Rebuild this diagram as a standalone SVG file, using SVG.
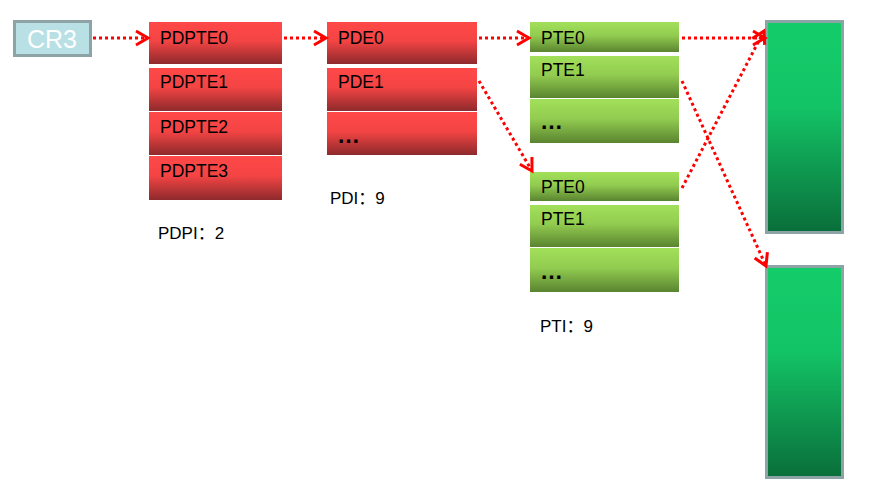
<svg xmlns="http://www.w3.org/2000/svg" width="892" height="486" viewBox="0 0 892 486">
<defs>
<linearGradient id="red" x1="0" y1="0" x2="0" y2="1">
<stop offset="0" stop-color="#ff4848"/><stop offset="0.45" stop-color="#f44444"/><stop offset="1" stop-color="#8e2a2c"/>
</linearGradient>
<linearGradient id="grn" x1="0" y1="0" x2="0" y2="1">
<stop offset="0" stop-color="#a2e05a"/><stop offset="0.45" stop-color="#92cc50"/><stop offset="1" stop-color="#5a8430"/>
</linearGradient>
<linearGradient id="page" x1="0" y1="0" x2="0" y2="1">
<stop offset="0" stop-color="#14cc6a"/><stop offset="0.4" stop-color="#13c466"/><stop offset="1" stop-color="#0a6e3a"/>
</linearGradient>
<marker id="ah" markerUnits="userSpaceOnUse" markerWidth="20" markerHeight="20" refX="14" refY="8" orient="auto" viewBox="0 0 20 16">
<path d="M2,1 L14,8 L2,15" fill="none" stroke="#ff0000" stroke-width="3"/>
</marker>
<style>
.r{fill:url(#red)}
.g{fill:url(#grn)}
.pg{fill:url(#page);stroke:#8ea3a6;stroke-width:3}
.t{font-family:"Liberation Sans",Arial,sans-serif;font-size:17.5px;fill:#000}
.e{font-family:"Liberation Sans",Arial,sans-serif;font-size:23px;font-weight:bold;fill:#000}
.lb{font-family:"Liberation Sans","Noto Sans CJK SC",sans-serif;font-size:17px;fill:#000}
.c{fill:none;stroke:#ff0000;stroke-width:3;stroke-dasharray:3 3;marker-end:url(#ah)}
</style>
</defs>
<g id="cr3">
<rect x="14.5" y="21.5" width="76" height="34" fill="#b9e0e4" stroke="#8ea3a6" stroke-width="3"/>
<text x="52" y="48" text-anchor="middle" font-family="Liberation Sans,Arial,sans-serif" font-size="25" fill="#ffffff">CR3</text>
</g>
<g id="pdpt">
<rect class="r" x="149" y="22" width="133" height="42"/>
<text class="t" x="160" y="44">PDPTE0</text>
<rect class="r" x="149" y="68" width="133" height="43"/>
<text class="t" x="160" y="88">PDPTE1</text>
<rect class="r" x="149" y="112" width="133" height="43"/>
<text class="t" x="160" y="133">PDPTE2</text>
<rect class="r" x="149" y="156" width="133" height="44"/>
<text class="t" x="160" y="177">PDPTE3</text>
</g>
<text id="pdpi" class="lb" x="158" y="239">PDPI：2</text>
<g id="pd">
<rect class="r" x="327" y="22" width="150" height="42"/>
<text class="t" x="338" y="44">PDE0</text>
<rect class="r" x="327" y="68" width="150" height="43"/>
<text class="t" x="338" y="88">PDE1</text>
<rect class="r" x="327" y="112" width="150" height="43"/>
<text class="e" x="337" y="143">…</text>
</g>
<text id="pdi" class="lb" x="330" y="204">PDI：9</text>
<g id="pt1">
<rect class="g" x="530" y="22" width="149" height="30"/>
<text class="t" x="541" y="44">PTE0</text>
<rect class="g" x="530" y="56" width="149" height="42"/>
<text class="t" x="541" y="76">PTE1</text>
<rect class="g" x="530" y="99" width="149" height="44"/>
<text class="e" x="540" y="129">…</text>
</g>
<g id="pt2">
<rect class="g" x="530" y="172" width="149" height="29"/>
<text class="t" x="541" y="193">PTE0</text>
<rect class="g" x="530" y="205" width="149" height="42"/>
<text class="t" x="541" y="225">PTE1</text>
<rect class="g" x="530" y="248" width="149" height="44"/>
<text class="e" x="540" y="279">…</text>
</g>
<text id="pti" class="lb" x="540" y="332">PTI：9</text>
<g id="page1"><rect class="pg" x="766.5" y="21.5" width="76" height="211"/></g>
<g id="page2"><rect class="pg" x="766.5" y="266.5" width="76" height="211"/></g>
<g id="connectors">
<line class="c" x1="93" y1="38" x2="148" y2="38"/>
<line class="c" x1="284" y1="38" x2="326" y2="38"/>
<line class="c" x1="479" y1="38" x2="529" y2="38"/>
<line class="c" x1="479" y1="81" x2="532" y2="171"/>
<line class="c" x1="682" y1="38" x2="765" y2="38"/>
<line class="c" x1="682" y1="188" x2="764" y2="31"/>
<line class="c" x1="682" y1="81" x2="766" y2="266"/>
</g>
</svg>
